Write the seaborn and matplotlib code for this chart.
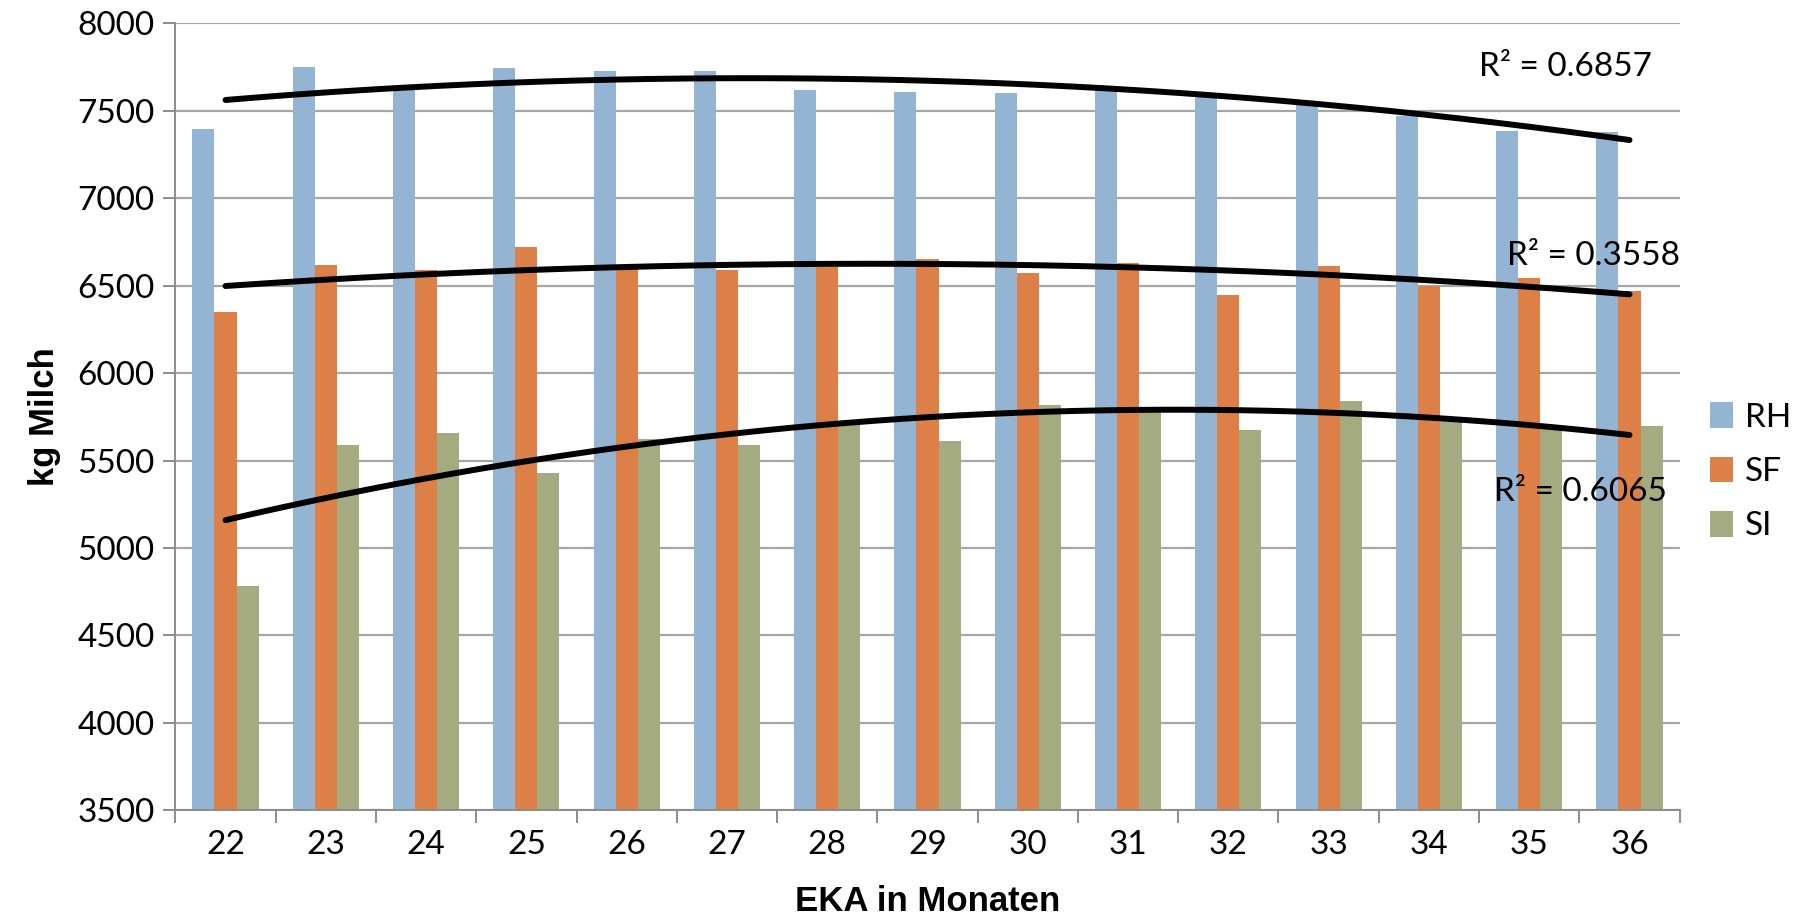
import numpy as np
import pandas as pd
import matplotlib.pyplot as plt
import seaborn as sns
from matplotlib.ticker import FixedLocator

eka = [22, 23, 24, 25, 26, 27, 28, 29, 30, 31, 32, 33, 34, 35, 36]
rh = [7393, 7747, 7630, 7745, 7728, 7724, 7619, 7608, 7598, 7630, 7577, 7545, 7469, 7381, 7377]
sf = [6351, 6619, 6591, 6722, 6598, 6587, 6605, 6650, 6574, 6631, 6444, 6612, 6500, 6541, 6467]
si = [4781, 5587, 5657, 5429, 5625, 5589, 5720, 5610, 5815, 5790, 5673, 5838, 5725, 5705, 5696]
rassen = ['RH', 'SF', 'SI']
r2_labels = ['R² = 0.6857', 'R² = 0.3558', 'R² = 0.6065']
farben = ['#94B4D4', '#DD8047', '#A5AB80']

df = pd.DataFrame({
    'EKA': eka * 3,
    'kg': rh + sf + si,
    'Rasse': [r for r in rassen for _ in eka],
})

sns.set_style('white')
plt.rcParams['font.family'] = ['Lato', 'DejaVu Sans']
plt.rcParams['text.color'] = 'black'
plt.rcParams['xtick.labelcolor'] = 'black'
plt.rcParams['ytick.labelcolor'] = 'black'
plt.rcParams['axes.labelcolor'] = 'black'

fig = plt.figure(figsize=(18.08, 9.21), dpi=100)
ax = fig.add_axes([0.097, 0.12, 0.832, 0.855])

sns.barplot(data=df, x='EKA', y='kg', hue='Rasse', palette=farben, width=0.66,
            linewidth=0, saturation=1, ax=ax, zorder=2)

# polynomial trend lines (order 2), like the Excel ones
pos = np.arange(len(eka))
xs = np.linspace(pos[0], pos[-1], 200)
for werte in [rh, sf, si]:
    p = np.polyfit(pos, werte, 2)
    ax.plot(xs, np.polyval(p, xs), color='black', lw=4.3, solid_capstyle='round', zorder=3)

ax.text(12.5, 7750, r2_labels[0], fontsize=24, va='center', ha='left', zorder=4)
ax.text(14.5, 6667, r2_labels[1], fontsize=24, va='center', ha='right', zorder=4)
ax.text(12.65, 5318, r2_labels[2], fontsize=24, va='center', ha='left', zorder=4)

ax.set_ylim(3500, 8000)
ax.set_xlim(-0.5, len(eka) - 0.5)
ax.set_yticks(np.arange(3500, 8001, 500))
ax.yaxis.grid(True, color='#a6a6a6', lw=1.6, zorder=0)
ax.set_axisbelow(True)

ax.xaxis.set_minor_locator(FixedLocator(np.arange(-0.5, len(eka), 1)))
ax.tick_params(axis='x', which='major', length=0, pad=14, labelsize=24)
ax.tick_params(axis='x', which='minor', length=9, width=1.4, color='#8c8c8c', direction='out', bottom=True)
ax.tick_params(axis='y', length=9, width=1.4, color='#8c8c8c', direction='out', left=True, labelsize=24, pad=6)

for s in ['top', 'right']:
    ax.spines[s].set_visible(False)
for s in ['left', 'bottom']:
    ax.spines[s].set_color('#8c8c8c')
    ax.spines[s].set_linewidth(1.4)

ax.set_xlabel('EKA in Monaten', fontsize=25, fontweight='bold', family='Liberation Sans', labelpad=18)
ax.set_ylabel('kg Milch', fontsize=25, fontweight='bold', family='Liberation Sans', labelpad=12)

ax.legend(loc='center left', bbox_to_anchor=(1.0, 0.43), frameon=False, fontsize=24,
          handlelength=0.7, handleheight=0.8, handletextpad=0.35, labelspacing=0.72, title=None)

fig.savefig('out.png', dpi=100)
